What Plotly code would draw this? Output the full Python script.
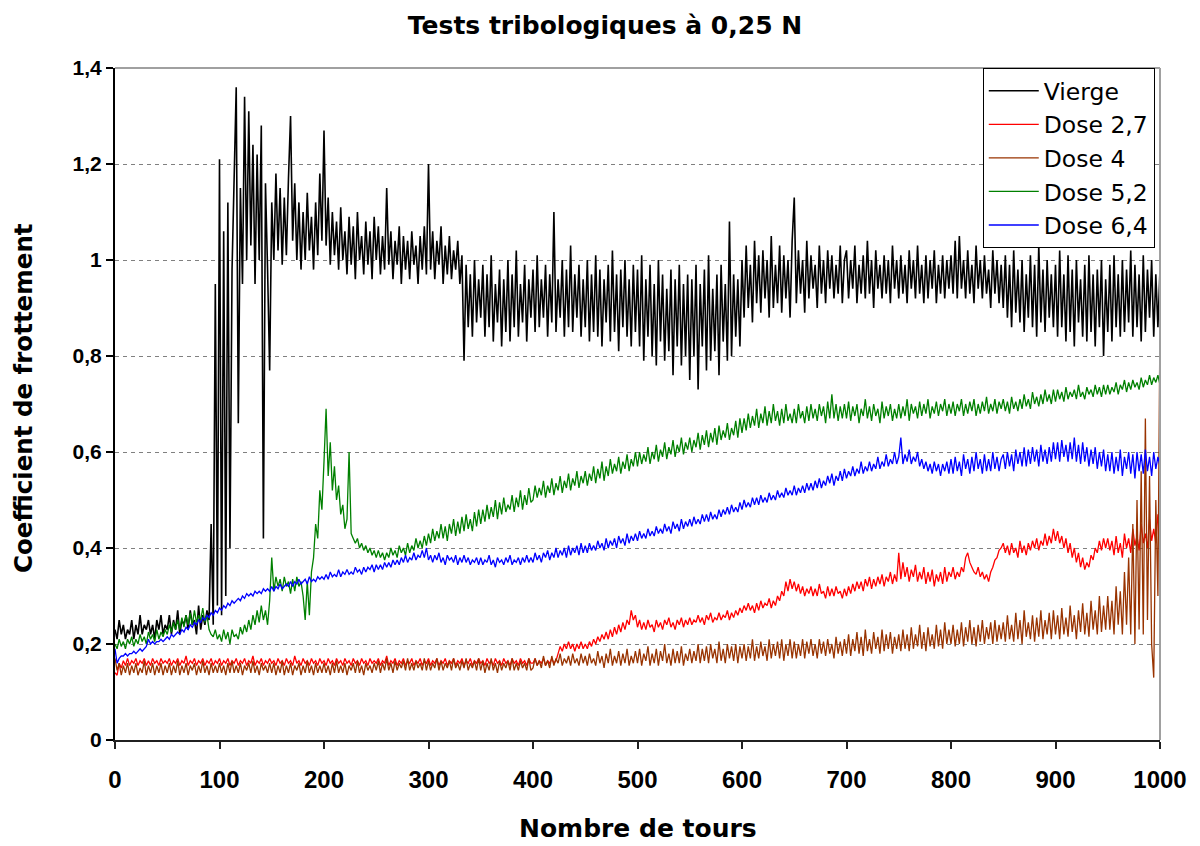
import plotly.graph_objects as go

# nombre de tours : un point tous les 2 tours, de 0 a 1000
tours = list(range(0, 1001, 2))

# coefficients de frottement, en centiemes (25 valeurs = 50 tours par ligne)
vierge = [
    23, 21, 25, 22, 24, 21, 23, 22, 25, 21, 24, 22, 26, 22, 24, 23, 25, 22, 24, 21, 25, 23, 26, 22, 24,
    23, 26, 22, 25, 23, 27, 22, 25, 24, 26, 23, 27, 24, 25, 22, 28, 23, 26, 24, 27, 25, 45, 24, 95, 28,
    121, 26, 106, 30, 112, 40, 98, 118, 136, 66, 115, 95, 134, 100, 131, 103, 124, 95, 122, 100, 128, 42, 116, 98, 77,
    112, 100, 118, 102, 115, 99, 113, 101, 117, 130, 104, 116, 100, 112, 98, 110, 100, 114, 102, 109, 98, 112, 101, 118, 104,
    127, 103, 113, 99, 110, 101, 108, 98, 111, 100, 106, 97, 109, 99, 107, 96, 110, 100, 105, 97, 108, 99, 106, 96, 109,
    100, 107, 97, 105, 98, 115, 99, 106, 96, 104, 99, 107, 95, 105, 98, 104, 96, 106, 99, 103, 95, 105, 98, 107, 97,
    120, 98, 106, 96, 104, 99, 107, 95, 103, 97, 105, 96, 102, 98, 104, 95, 101, 79, 99, 86, 97, 84, 100, 87, 96,
    88, 99, 84, 97, 86, 101, 83, 95, 87, 98, 82, 96, 85, 100, 83, 97, 86, 102, 84, 95, 87, 99, 83, 96, 88,
    98, 85, 101, 86, 96, 88, 99, 84, 97, 87, 110, 85, 96, 88, 100, 84, 98, 86, 103, 85, 97, 88, 99, 84, 96,
    86, 100, 83, 97, 85, 101, 84, 98, 82, 96, 87, 99, 83, 102, 85, 97, 81, 98, 86, 100, 84, 96, 82, 99, 85,
    98, 82, 101, 79, 96, 84, 99, 80, 95, 78, 100, 83, 97, 79, 94, 81, 98, 76, 96, 82, 99, 78, 95, 80, 97,
    75, 96, 80, 99, 73, 95, 82, 98, 77, 101, 79, 94, 81, 97, 76, 99, 83, 95, 79, 108, 80, 97, 84, 96, 82,
    100, 88, 103, 90, 99, 87, 104, 91, 101, 89, 102, 92, 100, 88, 105, 90, 99, 91, 103, 89, 101, 92, 100, 88, 104,
    113, 91, 102, 93, 100, 89, 104, 92, 101, 94, 99, 90, 103, 93, 100, 91, 102, 94, 101, 92, 99, 93, 103, 91, 100,
    102, 92, 100, 94, 103, 91, 99, 93, 101, 92, 104, 93, 100, 90, 102, 94, 99, 92, 101, 93, 100, 91, 103, 94, 100,
    92, 101, 93, 99, 91, 102, 94, 100, 92, 103, 93, 99, 91, 101, 92, 100, 94, 102, 91, 99, 93, 101, 92, 100, 94,
    101, 93, 104, 92, 105, 94, 100, 92, 102, 93, 99, 91, 103, 94, 100, 92, 101, 93, 98, 90, 102, 93, 100, 91, 99,
    90, 101, 88, 99, 86, 102, 89, 98, 87, 100, 85, 97, 88, 101, 86, 99, 84, 103, 87, 98, 85, 100, 88, 97, 86,
    99, 84, 102, 86, 97, 83, 101, 85, 98, 82, 100, 87, 96, 84, 99, 83, 101, 85, 97, 82, 98, 86, 100, 80, 96,
    85, 99, 83, 101, 86, 97, 84, 100, 85, 98, 87, 102, 84, 99, 86, 97, 83, 101, 85, 98, 88, 100, 84, 97, 86,
    98,
]
dose_2_7 = [
    14, 13.5, 16, 15, 16.5, 15.5, 17, 15.5, 16.5, 16, 17, 15.5, 16.5, 16, 17, 15.5, 16.5, 15.5, 17, 16, 16.5, 15.5, 17, 16, 16.5,
    16, 17, 15.5, 16.5, 16, 17, 15.5, 16.5, 16, 17.5, 15.5, 16.5, 16, 17, 15.5, 16.5, 16, 17, 15.5, 16.5, 16, 17, 15.5, 16.5, 16,
    17, 15.5, 16.5, 16, 17, 15.5, 16.5, 16, 17, 15.5, 16.5, 16, 17, 15.5, 16.5, 16, 17.5, 15.5, 16.5, 16, 17, 15.5, 16.5, 16, 17,
    16, 16.5, 15.5, 17, 16, 16.5, 15.5, 17, 16, 16.5, 15.5, 17.5, 16, 16.5, 15.5, 17, 16, 16.5, 15.5, 17, 16, 16.5, 15.5, 17, 16,
    16.5, 15.5, 17, 16, 16.5, 15.5, 17, 16, 16.5, 15.5, 17, 16, 16.5, 15.5, 17, 16, 16.5, 15.5, 17, 16, 16.5, 15.5, 17, 16, 16.5,
    16, 17, 15.5, 16.5, 16, 17.5, 15.5, 16.5, 16, 17, 15.5, 16.5, 16, 17, 15.5, 16.5, 16, 17, 15.5, 16.5, 16, 17, 15.5, 16.5, 16,
    17, 15.5, 16.5, 16, 17, 15.5, 16.5, 16, 17, 15.5, 16.5, 16, 17, 15.5, 16.5, 16, 17, 15.5, 16.5, 16, 17, 15.5, 16.5, 16, 17,
    16, 16.5, 15.5, 17, 16, 16.5, 15.5, 17, 16, 16.5, 15.5, 17, 16, 16.5, 15.5, 17, 16, 16.5, 15.5, 17, 16, 16.5, 15.5, 17, 16,
    16, 17, 15.5, 16.5, 16, 17, 15.5, 16.5, 16, 17, 16, 16.5, 18, 19.5, 18.5, 20, 19, 20.5, 19, 20, 18.5, 20, 19, 20.5, 19,
    20, 19, 20.5, 19.5, 21, 20, 21.5, 20.5, 22, 21, 22.5, 21, 23, 21.5, 23.5, 22, 24, 22.5, 24.5, 23, 25, 24, 27, 25, 26,
    23.5, 25, 23, 24.5, 23, 25, 23.5, 24, 22.5, 25, 23.5, 24.5, 23, 25, 24, 25.5, 23.5, 24.5, 23, 25, 24, 25.5, 23.5, 25, 24,
    25.5, 24, 25, 24.5, 26, 24.5, 25.5, 24, 26, 25, 26.5, 24.5, 25.5, 25, 26.5, 25, 26, 25.5, 27, 25, 26.5, 25.5, 27, 26, 27.5,
    26.5, 28, 27, 28.5, 27, 28, 26.5, 28.5, 27, 29, 27.5, 28.5, 28, 29.5, 27.5, 29, 28, 30, 29, 31, 30, 33, 31, 33.5, 31.5,
    33, 31, 32.5, 30.5, 32, 30, 31.5, 30.5, 32, 30, 31.5, 30, 32.5, 30.5, 31, 29.5, 32, 30, 31.5, 30, 32, 30.5, 31, 29.5, 31.5,
    30, 32, 30.5, 32.5, 31, 33, 31.5, 33, 31, 33.5, 32, 34, 31.5, 33.5, 32, 34, 32.5, 34.5, 32, 34, 33, 35, 32.5, 34.5, 33,
    39, 33.5, 37, 34, 36, 33, 35.5, 34, 36.5, 33, 35, 33.5, 36, 32.5, 35, 33, 35.5, 32, 34.5, 33, 35, 32.5, 36, 33, 35,
    34, 36, 33.5, 35, 34, 36, 35, 38, 39, 37, 36, 35, 34.5, 36, 34, 35, 33.5, 34.5, 33, 35, 36, 37.5, 38, 39.5, 40,
    41, 39, 40.5, 38.5, 41, 39, 40, 38, 41.5, 39, 40.5, 38.5, 41, 39.5, 41.5, 40, 42, 39.5, 41.5, 40.5, 43, 40.5, 42.5, 41, 44,
    41.5, 43.5, 41, 42.5, 40, 42, 39, 41, 38, 40, 37, 39, 36, 38, 35.5, 37, 36, 38.5, 37.5, 40, 39, 41.5, 39.5, 42, 40,
    42, 39.5, 41.5, 38.5, 42.5, 39, 41, 38, 43, 40, 42, 39, 44, 40.5, 42.5, 39.5, 45, 41, 43, 40, 46, 41.5, 44, 41, 47,
    43,
]
dose_4 = [
    17, 14.5, 16, 13.5, 15.5, 14, 16, 13.5, 15.5, 14, 16, 13.5, 15, 14, 16.5, 13.5, 15.5, 14, 16, 13.5, 15.5, 14, 16, 13.5, 15.5,
    14, 16, 13.5, 15.5, 14, 16.5, 13.5, 15.5, 14, 16, 13.5, 15.5, 14.5, 16, 13.5, 15.5, 14, 16.5, 14, 15.5, 13.5, 16, 14, 15.5, 14,
    16, 14, 15.5, 13.5, 16, 14, 16.5, 14, 15.5, 14, 16, 13.5, 15.5, 14.5, 16, 14, 16.5, 14, 15.5, 13.5, 16, 14.5, 15.5, 14, 16,
    14, 16, 13.5, 15.5, 14, 16.5, 13.5, 15.5, 14, 16, 13.5, 15.5, 14.5, 16, 13.5, 15.5, 14, 16.5, 14, 15.5, 13.5, 16, 14, 15.5, 14,
    16, 14, 15.5, 13.5, 16, 14, 16.5, 14, 15.5, 14, 16, 13.5, 15.5, 14.5, 16, 14, 16.5, 14, 15.5, 13.5, 16, 14.5, 15.5, 14, 16,
    14.5, 16.5, 14, 16, 14.5, 17, 14.5, 16, 14, 16.5, 14.5, 16, 15, 16.5, 14.5, 17, 14.5, 16, 14.5, 16.5, 15, 16, 14.5, 17, 14.5,
    16.5, 14.5, 16, 15, 17, 14.5, 16.5, 14.5, 16, 15, 16.5, 14.5, 17, 15, 16, 14.5, 16.5, 15, 17, 14.5, 16, 15, 16.5, 14.5, 17,
    14.5, 16.5, 14, 16, 14.5, 17, 14.5, 16, 14, 16.5, 14.5, 16, 15, 16.5, 14.5, 17, 14.5, 16, 14.5, 16.5, 15, 16, 14.5, 17, 14.5,
    15, 17, 15.5, 16.5, 15, 17.5, 15.5, 16.5, 15, 17.5, 15.5, 17, 16, 18, 15.5, 17, 16, 17.5, 15.5, 18, 16, 17, 15.5, 18, 16,
    17.5, 15.5, 18, 16, 17, 15.5, 18.5, 16, 17.5, 15, 18, 16, 19, 15.5, 17.5, 16, 18.5, 15.5, 18, 16, 19, 15.5, 17.5, 16, 18.5,
    16, 19, 15.5, 18, 16.5, 19.5, 15.5, 18, 16, 19, 15.5, 18.5, 16.5, 20, 16, 18, 15.5, 19, 16, 18.5, 16, 19.5, 15.5, 18, 16.5,
    19, 16, 18.5, 16.5, 20, 16, 19, 16.5, 19.5, 16, 20, 17, 19, 16, 20.5, 16.5, 19, 16, 20, 17, 19.5, 16.5, 20, 16, 19.5,
    17, 20, 16.5, 19.5, 17, 21, 16.5, 19.5, 17, 20.5, 17.5, 19.5, 16.5, 21, 17, 20, 17.5, 20.5, 17, 21, 16.5, 20, 17.5, 21, 17,
    20.5, 17, 20, 17.5, 21, 17, 20.5, 18, 21, 17.5, 20, 17, 21, 18, 20.5, 17.5, 21, 18, 20, 17, 21.5, 18, 20.5, 17.5, 21,
    18, 22, 17.5, 21, 18.5, 22.5, 18, 21.5, 17.5, 23, 18.5, 21, 18, 22.5, 19, 21.5, 18, 23, 18.5, 22, 19, 22.5, 18, 21.5, 19,
    22, 18.5, 23, 19, 22, 18.5, 23.5, 19, 22, 19.5, 24, 19, 22.5, 18.5, 23.5, 19.5, 22, 19, 24, 19.5, 23, 19, 24.5, 20, 23,
    20, 24, 19.5, 23, 20, 24.5, 19.5, 23.5, 20.5, 25, 20, 23.5, 19.5, 24, 20.5, 25, 20, 23.5, 21, 24.5, 20, 25, 20.5, 24, 21,
    24.5, 20.5, 26, 21, 24, 20.5, 26.5, 21, 25, 20, 27, 21.5, 24.5, 21, 26, 20.5, 25.5, 21.5, 27, 21, 25, 22, 26.5, 21, 27,
    22, 26, 21, 27.5, 22, 25.5, 21.5, 28, 22.5, 26, 21, 27, 22.5, 28.5, 22, 26.5, 21.5, 29, 23, 27, 22, 30, 22.5, 28, 23,
    30, 23, 29, 22, 32, 24, 31, 22, 35, 24, 38, 22, 45, 20, 50, 23, 56, 22, 67, 25, 55, 20, 13, 50, 30,
    88,
]
dose_5_2 = [
    20, 19, 21, 19.5, 20.5, 19, 21, 20, 21.5, 19.5, 21, 20, 22, 20.5, 21.5, 20, 22.5, 21, 22, 20.5, 23, 21, 22.5, 21.5, 23,
    22, 24, 22.5, 24.5, 23, 25, 23, 25.5, 23.5, 26, 24, 26.5, 24, 27, 24.5, 26, 25, 27.5, 24.5, 26, 23, 22, 21.5, 23, 21,
    22, 20.5, 23, 21, 22.5, 20, 23, 21.5, 22, 21, 23.5, 22, 24, 22.5, 25, 23, 26, 24, 27, 24.5, 28, 25, 27, 24, 29,
    38, 31, 34, 32, 33.5, 31, 34, 32, 33, 30.5, 33.5, 31, 34, 32, 33, 30, 25, 33, 26, 35, 38, 45, 42, 52, 48,
    58, 69, 55, 62, 52, 57, 50, 53, 47, 49, 44, 46, 60, 43, 42, 41, 42, 40, 41, 39.5, 40.5, 39, 40, 38.5, 39.5,
    38, 39.5, 38, 39, 37.5, 39, 38, 40, 38.5, 39.5, 38, 40.5, 39, 40, 38.5, 41, 39, 40.5, 39.5, 42, 40, 41.5, 40, 42.5, 40.5,
    43, 41, 44, 41.5, 43.5, 42, 45, 42, 44.5, 41.5, 45, 43, 46, 42.5, 45.5, 43, 46.5, 43.5, 47, 44, 46, 43.5, 47.5, 44.5, 48,
    45, 48, 45.5, 49, 46, 48.5, 46.5, 50, 46, 49.5, 47, 50.5, 47.5, 49, 48, 51, 47.5, 50.5, 48.5, 52, 48, 51, 49, 52.5, 49.5,
    50, 53, 50.5, 52.5, 51, 54, 50.5, 53, 51.5, 54.5, 51, 53.5, 52, 55, 51.5, 54, 52.5, 55.5, 52, 54.5, 53, 56, 52.5, 55, 53.5,
    56, 53, 55.5, 54, 57, 53.5, 56.5, 54.5, 58, 54, 57, 55, 58.5, 55.5, 57.5, 56, 59, 55.5, 58, 56.5, 59.5, 56, 58.5, 57, 60,
    57, 60, 57.5, 59.5, 58, 61, 57.5, 60, 58.5, 61.5, 58, 60.5, 59, 62, 58.5, 61, 59.5, 62.5, 59, 61.5, 60, 63, 59.5, 62, 60.5,
    63, 60, 62.5, 61, 64, 60.5, 63.5, 61.5, 64.5, 61, 64, 62, 65, 61.5, 65.5, 62.5, 64.5, 63, 66, 62.5, 65, 63.5, 66.5, 63, 67,
    64, 67, 64.5, 68, 65, 67.5, 65.5, 69, 65, 68, 66, 69.5, 65.5, 68.5, 66, 70, 66.5, 68.5, 65.5, 69, 66, 70, 66.5, 68, 66,
    69, 66, 70, 67, 68.5, 66, 69.5, 66.5, 70, 67, 69, 66.5, 70, 67.5, 69.5, 66, 70.5, 67, 72, 67, 70, 66.5, 69.5, 67, 70,
    67, 70.5, 66.5, 69.5, 67.5, 70, 66, 69, 67.5, 71, 67, 69.5, 66.5, 70, 67.5, 69, 66, 70.5, 67, 69.5, 67.5, 70, 66.5, 69, 67,
    70, 67, 69.5, 67.5, 71, 66.5, 70, 68, 69.5, 67, 70.5, 67.5, 70, 68, 71, 67, 69.5, 68, 70.5, 67.5, 70, 68.5, 71, 67.5, 70,
    68, 70.5, 67.5, 70, 68.5, 71, 67.5, 70, 68, 70.5, 68.5, 71, 67.5, 70, 68, 70.5, 68.5, 71.5, 68, 70, 68.5, 71, 68, 70.5, 69,
    71, 68.5, 70.5, 68, 71.5, 69, 70.5, 68.5, 71, 69, 72, 69.5, 71, 69, 72.5, 70, 71.5, 69.5, 72, 70, 73, 70.5, 72, 70, 73,
    70.5, 73, 71, 72.5, 70.5, 73.5, 71, 72.5, 71.5, 73, 71, 74, 71.5, 72.5, 71, 73.5, 72, 73, 71.5, 74, 72, 73.5, 71.5, 74, 72,
    74, 72, 73.5, 72.5, 74.5, 72, 74, 73, 75, 72.5, 74.5, 73, 75, 73.5, 74.5, 73, 75.5, 73.5, 75, 74, 76, 74, 75.5, 74.5, 76,
    74,
]
dose_6_4 = [
    19, 16, 17, 17.5, 17.5, 18, 17.5, 18, 18, 18.5, 18, 18.5, 19, 18.5, 19, 19.5, 21, 20, 20.5, 20, 20.5, 20.5, 21, 20.5, 21,
    21.5, 21, 22, 21.5, 22, 22.5, 22, 23, 22.5, 23.5, 23, 24, 23.5, 24.5, 24, 25, 24.5, 25.5, 25, 26, 25.5, 26.5, 26, 27, 26.5,
    27.5, 27, 28, 27.5, 28.5, 28, 29, 28.5, 29, 29.5, 29, 30, 29.5, 30.5, 30, 30.5, 30, 31, 30.5, 31, 30.5, 31.5, 31, 31.5, 31,
    32, 31, 32, 31.5, 32.5, 31.5, 32, 32.5, 32, 33, 32, 33, 32.5, 33.5, 32.5, 33, 33.5, 32.5, 34, 33, 33.5, 33, 34, 33.5, 34,
    33.5, 34.5, 33.5, 35, 34, 34.5, 34, 35.5, 34, 35, 34.5, 35.5, 34.5, 35, 34.5, 36, 35, 35.5, 34.5, 36, 35, 36, 35.5, 36.5, 35,
    36.5, 35.5, 36.5, 35.5, 37, 36, 37, 36, 37.5, 36.5, 37.5, 36.5, 38, 37, 38.5, 37, 38, 37.5, 39, 37.5, 38.5, 38, 39.5, 38, 40,
    37.5, 38.5, 37, 38.5, 37.5, 39, 37, 38, 36.5, 38.5, 37.5, 38, 37, 38.5, 36.5, 38, 37, 38.5, 37, 38, 36.5, 37.5, 37, 38, 36.5,
    38, 36.5, 37.5, 37, 38.5, 36.5, 37.5, 36, 38, 37, 37.5, 36.5, 38, 37, 38.5, 36.5, 37.5, 37, 38, 36.5, 38, 37, 38.5, 37, 38,
    37, 39, 37.5, 38.5, 37, 39, 38, 39.5, 37.5, 39, 38, 40, 38, 39.5, 38.5, 40, 38, 40.5, 38.5, 40, 39, 40.5, 38.5, 41, 39,
    40.5, 39, 41, 39.5, 40.5, 39.5, 41.5, 40, 41, 39.5, 42, 40, 41.5, 40.5, 42, 40, 42.5, 41, 42, 40.5, 43, 41, 42.5, 41.5, 43,
    41.5, 43.5, 42, 43, 42, 44, 42.5, 43.5, 42.5, 44.5, 43, 44, 43, 45, 43.5, 44.5, 43, 45.5, 44, 45, 43.5, 46, 44, 45.5, 44.5,
    46, 44.5, 46.5, 45, 46, 45, 47, 45.5, 47, 45.5, 47.5, 46, 47, 46, 48, 46.5, 48, 47, 48.5, 47, 49, 47.5, 48.5, 47.5, 49.5,
    48, 50, 48.5, 49.5, 48.5, 50.5, 49, 50.5, 49, 51, 49.5, 50.5, 49.5, 51.5, 50, 51, 50, 52, 50.5, 51.5, 50.5, 52.5, 51, 52, 51,
    53, 51, 52.5, 51.5, 53, 51.5, 53.5, 52, 53.5, 52, 54, 52.5, 54.5, 52.5, 54, 53, 55, 53.5, 55.5, 53, 55, 54, 56, 54, 56.5,
    54.5, 56, 55, 57, 55, 56.5, 55.5, 58, 55.5, 57, 56, 58, 56, 57.5, 56.5, 59, 56.5, 58, 57, 59.5, 57, 58.5, 57.5, 60, 57.5,
    59, 63, 57.5, 59.5, 58, 60.5, 57.5, 59, 58, 60, 57, 58.5, 56.5, 58, 56, 57.5, 55.5, 58, 56, 57.5, 55, 57.5, 56, 58, 55.5,
    58.5, 55.5, 59, 56, 58, 55, 59.5, 56.5, 58.5, 55.5, 59, 56, 60, 56.5, 58.5, 55.5, 59.5, 56, 58.5, 56, 60, 56.5, 59, 56, 58.5,
    59.5, 56.5, 60, 57, 59.5, 56, 60.5, 57.5, 60, 57, 61, 57, 60.5, 57.5, 61, 58, 60.5, 57, 61.5, 58, 60.5, 57.5, 61, 58, 62,
    58.5, 62, 58, 62.5, 59, 61.5, 58, 62, 58.5, 63, 58, 61.5, 57.5, 62, 58, 61, 57, 60.5, 57.5, 61, 56.5, 60, 57, 60.5, 56,
    59.5, 56, 60, 55.5, 59, 56, 60.5, 55, 59, 56.5, 60, 55.5, 59.5, 54.5, 60, 56, 59.5, 55.5, 60.5, 56, 59, 55, 60, 56.5, 59,
    57,
]

series = [
    ("Vierge", vierge, "#000000", 1.6),
    ("Dose 2,7", dose_2_7, "#ff0000", 1.3),
    ("Dose 4", dose_4, "#993300", 1.3),
    ("Dose 5,2", dose_5_2, "#008000", 1.3),
    ("Dose 6,4", dose_6_4, "#0000ff", 1.3),
]

arial = "Liberation Sans, Arial, sans-serif"
large = "DejaVu Sans, Verdana, sans-serif"

fig = go.Figure()
for nom, valeurs, couleur, epaisseur in series:
    assert len(valeurs) == len(tours), (nom, len(valeurs))
    fig.add_trace(go.Scatter(
        x=tours,
        y=[v / 100 for v in valeurs],
        mode="lines",
        name=nom,
        legendgroup=nom,
        line=dict(color=couleur, width=epaisseur),
    ))

# la page est decalee de 8 px (marge du body), d'ou les marges ci-dessous
fig.update_layout(
    width=1200, height=846,
    paper_bgcolor="white", plot_bgcolor="white",
    separators=", ",
    margin=dict(l=107, r=48, t=60, b=114),
    font=dict(family=arial, color="black"),
    title=dict(text="<b>Tests tribologiques à 0,25 N</b>", x=0.4975, y=0.98,
               xanchor="center", yanchor="middle",
               font=dict(family=large, size=25)),
    legend=dict(x=0.995, y=1, xanchor="right", yanchor="top",
                bgcolor="white", bordercolor="black", borderwidth=1,
                font=dict(family=large, size=23.5), tracegroupgap=0,
                itemwidth=50),
    showlegend=True,
)
fig.update_xaxes(
    range=[0, 1000], dtick=100, tick0=0,
    showline=True, linecolor="#202020", linewidth=2,
    ticks="outside", ticklen=7, tickwidth=1.5, tickcolor="#202020",
    showgrid=False, zeroline=False,
    tickfont=dict(family=arial, size=24, weight="bold"), ticklabelstandoff=10,
)
fig.update_yaxes(
    range=[0, 1.4], dtick=0.2, tick0=0,
    showline=True, linecolor="black", linewidth=2,
    ticks="outside", ticklen=7, tickwidth=1.5, tickcolor="black",
    showgrid=True, gridcolor="#808080", griddash="4px,4px", gridwidth=1,
    zeroline=False,
    tickfont=dict(family="Liberation Sans Narrow, " + arial, size=21, weight="bold"),
)
# titres des axes
fig.add_annotation(text="<b>Nombre de tours</b>", xref="paper", yref="paper",
                   x=0.5, y=-0.131, xanchor="center", yanchor="middle",
                   showarrow=False, font=dict(family=large, size=25))
fig.add_annotation(text="<b>Coefficient de frottement</b>", xref="paper", yref="paper",
                   x=-0.087, y=0.509, xanchor="center", yanchor="middle", textangle=-90,
                   showarrow=False, font=dict(family=large, size=24.5))
# cadre gris en haut et a droite
fig.add_shape(type="line", xref="paper", yref="paper", x0=0, x1=1, y0=1, y1=1,
              line=dict(color="#a0a0a0", width=2))
fig.add_shape(type="line", xref="paper", yref="paper", x0=1, x1=1, y0=0, y1=1,
              line=dict(color="#a0a0a0", width=2))

fig.write_html("out.html")
